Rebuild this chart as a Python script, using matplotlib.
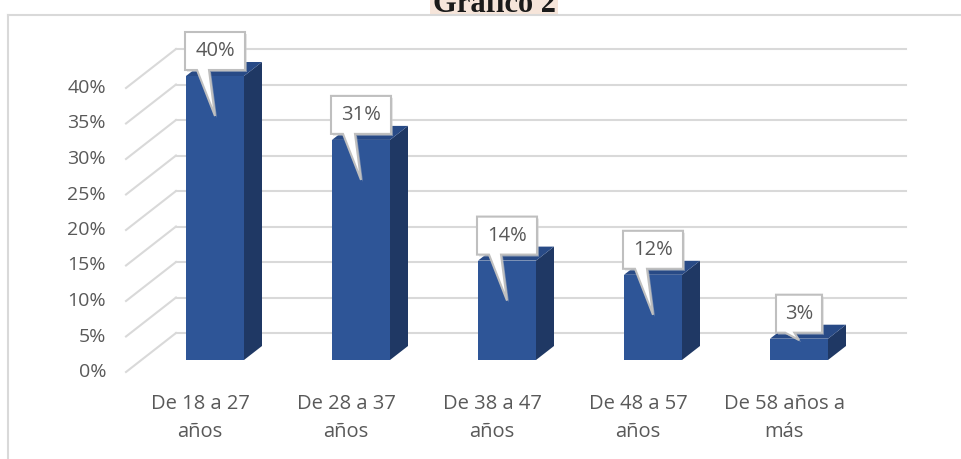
import matplotlib
matplotlib.use('Agg')
import matplotlib.pyplot as plt
from matplotlib.patches import Polygon, Rectangle
from matplotlib.lines import Line2D

# data
categories = ['De 18 a 27\naños', 'De 28 a 37\naños', 'De 38 a 47\naños',
              'De 48 a 57\naños', 'De 58 años a\nmás']
values = [40, 31, 14, 12, 3]
value_labels = ['40%', '31%', '14%', '12%', '3%']
yticks = [0, 5, 10, 15, 20, 25, 30, 35, 40]
title = 'Gráfico 2'

W, H = 961, 459
X0, XS = 215, 146.0    # pixel of first category, pixels per category
Y0, YS = 360, 7.1      # pixel of 0 %, pixels per percent


def px(p):
    return p / XS


def py(p):
    return p / YS


FONT = ['Open Sans', 'DejaVu Sans']
TXT = '#595959'
GRID = '#d9d9d9'
FRONT, SIDE, TOP = '#2e5597', '#1f3864', '#284a86'

fig = plt.figure(figsize=(W / 100, H / 100), dpi=100)
ax = fig.add_axes([0, 0, 1, 1])
ax.set_xlim(-X0 / XS, (W - X0) / XS)
ax.set_ylim(-(H - Y0) / YS, Y0 / YS)
ax.axis('off')

# outer frame and title (cut at the top edge, as in the source)
fig.add_artist(Line2D([8 / W, 1], [1 - 15 / H] * 2, color=GRID, lw=1.5))
fig.add_artist(Line2D([8 / W] * 2, [0, 1 - 15 / H], color=GRID, lw=1.5))
fig.add_artist(Rectangle((430 / W, 1 - 14 / H), 128 / W, 14 / H,
                         transform=fig.transFigure, color='#f6e5da', lw=0))
fig.text(494 / W, 1 - 12 / H, title, ha='center', va='baseline',
         family='Liberation Serif', weight='bold', size=22, color='#1a1a1a')

# back wall gridlines and left wall diagonals
back_y = py(27)
for t in yticks:
    ax.plot([px(176 - X0), px(906 - X0)], [t + back_y] * 2, color=GRID, lw=1.5, zorder=1)
    ax.plot([px(126 - X0), px(176 - X0)], [t - py(12), t + back_y], color=GRID, lw=1.5, zorder=1)
    ax.text(px(106 - X0), t - py(12), f'{t}%', ha='right', va='center',
            family=FONT, size=14, color=TXT)

# 3d bars
xs = list(range(len(values)))
bw = px(58)
ddx, ddy = px(18), py(14)
ax.bar(xs, values, width=bw, color=FRONT, zorder=3)
for x, v in zip(xs, values):
    r, l = x + bw / 2, x - bw / 2
    ax.add_patch(Polygon([(r, 0), (r + ddx, ddy), (r + ddx, v + ddy), (r, v)],
                         closed=True, fc=SIDE, ec='none', zorder=3))
    ax.add_patch(Polygon([(l, v), (r, v), (r + ddx, v + ddy), (l + ddx, v + ddy)],
                         closed=True, fc=TOP, ec='none', zorder=3))

# category labels
for x, c in zip(xs, categories):
    ax.text(x - px(15), py(-58), c, ha='center', va='center', family=FONT,
            size=14.5, color=TXT, linespacing=1.55)

# callout data labels
for x, v, lab in zip(xs, values, value_labels):
    w = px(18 + 14 * len(lab))
    h = py(38)
    b = v + py(6)
    drop = min(40, max(1, v * YS - 20))
    tip = (x, v - py(drop))
    l = x - w / 2
    pts = [(l, b), (l + 0.2 * w, b), tip, (l + 0.4 * w, b), (l + w, b),
           (l + w, b + h), (l, b + h)]
    shadow = [(p[0] + px(2), p[1] - py(2)) for p in pts]
    ax.add_patch(Polygon(shadow, closed=True, fc='#d0d0d0', ec='none', alpha=0.5, zorder=4))
    ax.add_patch(Polygon(pts, closed=True, fc='white', ec='#bfbfbf', lw=1.5, zorder=5))
    ax.text(x, b + h / 2, lab, ha='center', va='center', family=FONT,
            size=14.5, color=TXT, zorder=6)

fig.savefig('out.png', dpi=100)
